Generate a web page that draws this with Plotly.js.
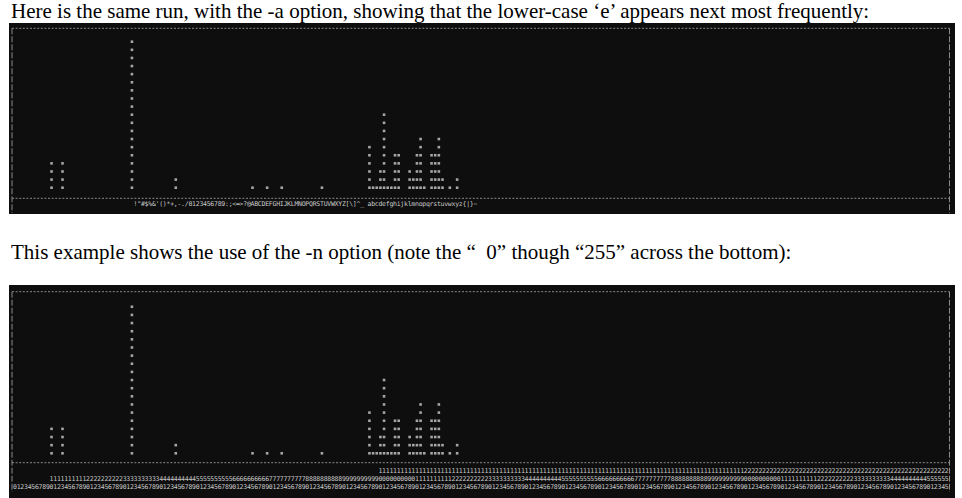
<!DOCTYPE html>
<html>
<head>
<meta charset="utf-8">
<script src="https://cdn.plot.ly/plotly-3.0.1.min.js"></script>
<style>html,body{margin:0;padding:0;background:#fff;}#chart{width:962px;height:498px;}</style>
</head>
<body>
<div id="chart"></div>
<script>
// ---- data: byte value (column) and its count (number of '*') ----
const charCodes = [10, 13, 32, 44, 65, 69, 73, 84,
  97, 98, 99, 100, 101, 102, 103, 104, 105, 108, 109, 110, 111, 112, 114, 115, 116, 117, 119, 121];
const charCounts = [4, 4, 19, 2, 1, 1, 1, 1,
  6, 1, 1, 3, 10, 1, 1, 5, 5, 3, 2, 5, 7, 1, 5, 5, 7, 2, 1, 2];
// printable labels for the -a run (codes 33..126)
const printableFirst = 33, printableLast = 126;
// all byte values for the -n run
const byteCount = 256;

const titleTop = "Here is the same run, with the -a option, showing that the lower-case \u2018e\u2019 appears next most frequently:";
const titleBottom = "This example shows the use of the -n option (note the \u201c  0\u201d though \u201c255\u201d across the bottom):";

// ---- geometry (pixels) ----
const W = 962, H = 498;
const X0 = 15, DX = 3.654;
const T_B = 195.81, T_D = 8.11;   // top panel: pixel = T_B - T_D*r
const B_B = 461.44, B_D = 8.14;   // bottom panel
const px = v => v / W, py = v => 1 - v / H;

// ---- build marks ----
const sx = [], sy = [];
charCodes.forEach((c, k) => { for (let r = 1; r <= charCounts[k]; r++) { sx.push(c); sy.push(r); } });

const labX = [], labT = [];
for (let c = printableFirst; c <= printableLast; c++) { labX.push(c); labT.push(c === 96 ? ' ' : String.fromCharCode(c)); }

const hx = [], ht = [], tx = [], tt = [], ux = [], ut = [];
for (let i = 0; i < byteCount; i++) {
  if (i >= 100) { hx.push(i); ht.push(String(Math.floor(i / 100))); }
  if (i >= 10) { tx.push(i); tt.push(String(Math.floor(i / 10) % 10)); }
  ux.push(i); ut.push(String(i % 10));
}

const starStyle = {symbol: 'square', size: 2.6, color: '#a6a6a6', line: {width: 0}};
const labFont = {family: 'DejaVu Sans Mono', size: 6.5, color: '#c8c8c8'};

const traces = [
  {x: sx, y: sy, xaxis: 'x', yaxis: 'y', mode: 'markers', type: 'scatter', marker: starStyle, hoverinfo: 'skip'},
  {x: labX, y: labX.map(() => -1.0), text: labT, xaxis: 'x', yaxis: 'y', mode: 'text', type: 'scatter', textfont: labFont, textposition: 'middle center', hoverinfo: 'skip'},
  {x: sx, y: sy, xaxis: 'x', yaxis: 'y2', mode: 'markers', type: 'scatter', marker: starStyle, hoverinfo: 'skip'},
  {x: hx, y: hx.map(() => -1.17), text: ht, xaxis: 'x', yaxis: 'y2', mode: 'text', type: 'scatter', textfont: labFont, textposition: 'middle center', hoverinfo: 'skip'},
  {x: tx, y: tx.map(() => -2.16), text: tt, xaxis: 'x', yaxis: 'y2', mode: 'text', type: 'scatter', textfont: labFont, textposition: 'middle center', hoverinfo: 'skip'},
  {x: ux, y: ux.map(() => -3.15), text: ut, xaxis: 'x', yaxis: 'y2', mode: 'text', type: 'scatter', textfont: labFont, textposition: 'middle center', hoverinfo: 'skip'}
];

const dashH = {color: '#8a8a8a', width: 1, dash: '2px,1.6px'};
const dashV = {color: '#8a8a8a', width: 1, dash: '6px,2px'};
function hline(y, x1, x2) { return {type: 'line', xref: 'paper', yref: 'paper', x0: px(x1), x1: px(x2), y0: py(y), y1: py(y), line: dashH, layer: 'above'}; }
function vline(x, y1, y2) { return {type: 'line', xref: 'paper', yref: 'paper', x0: px(x), x1: px(x), y0: py(y1), y1: py(y2), line: dashV, layer: 'above'}; }
function rect(x1, y1, x2, y2) { return {type: 'rect', xref: 'paper', yref: 'paper', x0: px(x1), x1: px(x2), y0: py(y2), y1: py(y1), fillcolor: '#0e0e0e', line: {width: 0}, layer: 'below'}; }

const shapes = [
  rect(9, 23, 955, 214),
  hline(28.3, 12, 949.5), hline(198.3, 12, 949.5),
  vline(12, 28.3, 213), vline(949.5, 28.3, 213),
  rect(9, 285, 955, 498),
  hline(291.7, 12, 949.5), hline(462.7, 12, 949.5),
  vline(12, 291.7, 492), vline(949.5, 291.7, 492)
];

const textFont = {family: 'Liberation Serif, Times New Roman, serif', size: 21, color: '#000'};
const annotations = [
  {xref: 'paper', yref: 'paper', x: px(9), y: py(11.5), xanchor: 'left', yanchor: 'middle', text: titleTop, showarrow: false, font: textFont},
  {xref: 'paper', yref: 'paper', x: px(9), y: py(252), xanchor: 'left', yanchor: 'middle', text: titleBottom, showarrow: false, font: textFont}
];

const hiddenAxis = {visible: false, showgrid: false, zeroline: false, fixedrange: true};
const layout = {
  width: W, height: H,
  margin: {l: 0, r: 0, t: 0, b: 0, pad: 0},
  paper_bgcolor: '#ffffff', plot_bgcolor: 'rgba(0,0,0,0)',
  showlegend: false,
  xaxis: Object.assign({}, hiddenAxis, {domain: [0, 1], range: [(0 - X0) / DX, (W - X0) / DX]}),
  yaxis: Object.assign({}, hiddenAxis, {domain: [0, 1], range: [(T_B - H) / T_D, T_B / T_D]}),
  yaxis2: Object.assign({}, hiddenAxis, {domain: [0, 1], overlaying: 'y', range: [(B_B - H) / B_D, B_B / B_D]}),
  shapes: shapes,
  annotations: annotations
};

Plotly.newPlot('chart', traces, layout, {staticPlot: true, displayModeBar: false});
</script>
</body>
</html>
